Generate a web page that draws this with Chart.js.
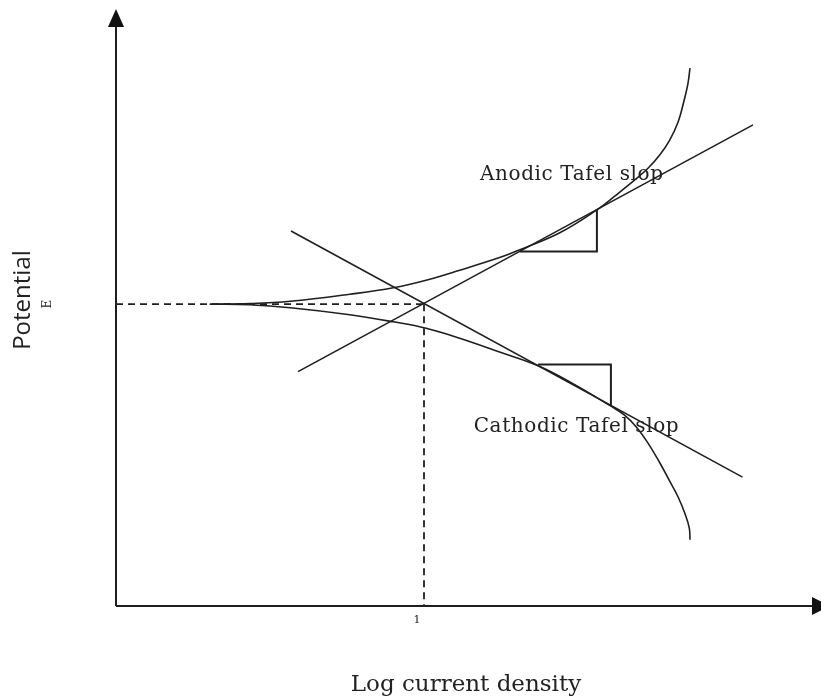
<!DOCTYPE html>
<html>
<head>
<meta charset="utf-8">
<script src="https://cdn.jsdelivr.net/npm/chart.js@4/dist/chart.umd.min.js"></script>
<style>
  html, body { margin: 0; padding: 0; background: #ffffff; }
  #wrap { width: 821px; height: 700px; }
</style>
</head>
<body>
<div id="wrap"><canvas id="tafel" width="821" height="700"></canvas></div>
<script>
// Corrosion point (log i_corr, E_corr)
const corrLogI = 4.4;
const corrE = 5.15;
const xTickLabels = ['1'];

// Measured polarisation curves
const anodicLogI = [1.34, 1.91, 2.49, 3.34, 3.96, 4.43, 4.91, 5.49, 5.77, 6.34, 6.87, 7.13, 7.39, 7.60, 7.77, 7.91, 8.03, 8.11, 8.17, 8.20];
const anodicE    = [5.15, 5.16, 5.20, 5.32, 5.43, 5.56, 5.73, 5.95, 6.08, 6.37, 6.76, 7.00, 7.25, 7.47, 7.70, 7.95, 8.26, 8.60, 8.91, 9.18];
const cathodicLogI = [1.34, 1.91, 2.49, 3.34, 3.96, 4.43, 4.91, 5.49, 6.03, 6.49, 7.07, 7.26, 7.43, 7.60, 7.77, 7.91, 8.03, 8.13, 8.19, 8.20];
const cathodicE    = [5.15, 5.14, 5.09, 4.97, 4.85, 4.74, 4.57, 4.33, 4.10, 3.82, 3.41, 3.26, 3.06, 2.78, 2.44, 2.13, 1.86, 1.57, 1.33, 1.13];

// Tafel extrapolation lines (two end points each)
const anodicTafelLogI = [2.6, 9.1];
const anodicTafelE    = [4.0, 8.21];
const cathodicTafelLogI = [2.5, 8.95];
const cathodicTafelE    = [6.4, 2.2];

// Slope triangles (run then rise)
const anodicTriLogI = [5.77, 6.87, 6.87];
const anodicTriE    = [6.05, 6.05, 6.77];
const cathodicTriLogI = [6.03, 7.07, 7.07];
const cathodicTriE    = [4.12, 4.12, 3.42];

const pts = (xs, ys) => xs.map((x, i) => ({ x, y: ys[i] }));

const INK = '#1f1f1f';
const lineBase = { showLine: true, pointRadius: 0, borderColor: INK, borderWidth: 1.6, fill: false, clip: false };

const datasets = [
  Object.assign({}, lineBase, { label: 'E_corr level', data: [{ x: 0, y: corrE }, { x: corrLogI, y: corrE }], borderDash: [7, 5], borderWidth: 1.8 }),
  Object.assign({}, lineBase, { label: 'i_corr', data: [{ x: corrLogI, y: corrE }, { x: corrLogI, y: 0 }], borderDash: [7, 5], borderWidth: 1.8 }),
  Object.assign({}, lineBase, { label: 'Anodic curve', data: pts(anodicLogI, anodicE), tension: 0.4 }),
  Object.assign({}, lineBase, { label: 'Cathodic curve', data: pts(cathodicLogI, cathodicE), tension: 0.4 }),
  Object.assign({}, lineBase, { label: 'Anodic Tafel line', data: pts(anodicTafelLogI, anodicTafelE), tension: 0 }),
  Object.assign({}, lineBase, { label: 'Cathodic Tafel line', data: pts(cathodicTafelLogI, cathodicTafelE), tension: 0 }),
  Object.assign({}, lineBase, { label: 'Anodic slope', data: pts(anodicTriLogI, anodicTriE), tension: 0, borderWidth: 2 }),
  Object.assign({}, lineBase, { label: 'Cathodic slope', data: pts(cathodicTriLogI, cathodicTriE), tension: 0, borderWidth: 2 })
];

// Axes with arrow heads, drawn under the curves
const arrowAxes = {
  id: 'arrowAxes',
  beforeDatasetsDraw(chart) {
    const { ctx, chartArea: a } = chart;
    ctx.save();
    ctx.strokeStyle = '#1e1e1e';
    ctx.fillStyle = '#111';
    ctx.lineWidth = 2;
    ctx.beginPath();
    ctx.moveTo(a.left, a.bottom);
    ctx.lineTo(a.left, a.top);
    ctx.moveTo(a.left, a.bottom);
    ctx.lineTo(a.right - 4, a.bottom);
    ctx.stroke();
    // y arrow
    ctx.beginPath();
    ctx.moveTo(a.left, a.top - 11);
    ctx.lineTo(a.left - 8, a.top + 7);
    ctx.lineTo(a.left + 8, a.top + 7);
    ctx.closePath();
    ctx.fill();
    // x arrow
    ctx.beginPath();
    ctx.moveTo(a.right - 4, a.bottom - 9);
    ctx.lineTo(a.right + 14, a.bottom);
    ctx.lineTo(a.right - 4, a.bottom + 9);
    ctx.closePath();
    ctx.fill();
    ctx.restore();
  }
};

// Axis titles, tick text and slope annotations
const annotations = {
  id: 'annotations',
  afterDraw(chart) {
    const { ctx, chartArea: a, scales } = chart;
    const xs = scales.x, ys = scales.y;
    ctx.save();
    ctx.fillStyle = '#222';
    ctx.textBaseline = 'middle';

    // x tick at i_corr
    ctx.font = '11px "DejaVu Serif"';
    ctx.textAlign = 'center';
    ctx.fillText(xTickLabels[0], xs.getPixelForValue(corrLogI) - 7, a.bottom + 14);

    // x title
    ctx.font = '23px "DejaVu Serif"';
    ctx.fillText('Log current density', (a.left + a.right) / 2, 685);

    // y title and E label, rotated
    ctx.save();
    ctx.translate(23, 300);
    ctx.rotate(-Math.PI / 2);
    ctx.font = '24px "Open Sans"';
    ctx.fillText('Potential', 0, 0);
    ctx.restore();
    ctx.save();
    ctx.translate(48, ys.getPixelForValue(corrE));
    ctx.rotate(-Math.PI / 2);
    ctx.font = '12px "DejaVu Serif"';
    ctx.fillText('E', 0, 0);
    ctx.restore();

    // slope labels
    ctx.font = '20px "DejaVu Serif"';
    ctx.letterSpacing = '0.6px';
    ctx.textAlign = 'left';
    ctx.fillText('Anodic Tafel slop', xs.getPixelForValue(5.2), ys.getPixelForValue(7.35));
    ctx.fillText('Cathodic Tafel slop', xs.getPixelForValue(5.11), ys.getPixelForValue(3.05));
    ctx.restore();
  }
};

new Chart(document.getElementById('tafel'), {
  type: 'scatter',
  data: { datasets },
  options: {
    responsive: false,
    devicePixelRatio: 1,
    animation: false,
    layout: { padding: { left: 116, right: 5, top: 20, bottom: 94 } },
    scales: {
      x: { type: 'linear', min: 0, max: 10, display: false },
      y: { type: 'linear', min: 0, max: 10, display: false }
    },
    plugins: { legend: { display: false }, tooltip: { enabled: false } }
  },
  plugins: [arrowAxes, annotations]
});
</script>
</body>
</html>
